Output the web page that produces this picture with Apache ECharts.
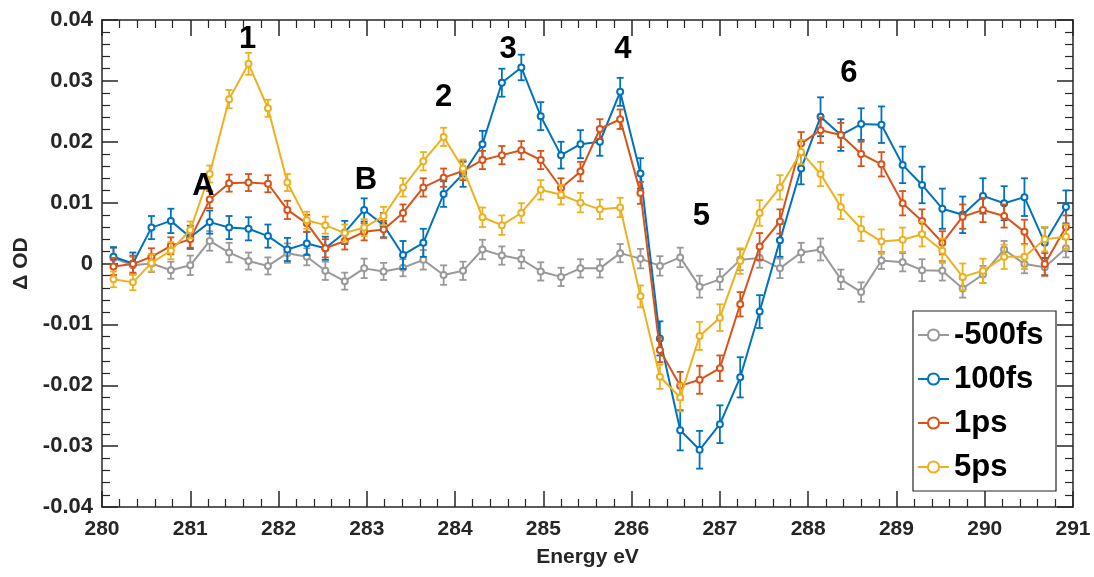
<!DOCTYPE html>
<html>
<head>
<meta charset="utf-8">
<script src="https://cdn.jsdelivr.net/npm/echarts@6/dist/echarts.min.js"></script>
<style>html,body{margin:0;padding:0;background:#fff;}#c{width:1094px;height:577px;}</style>
</head>
<body>
<div id="c"></div>
<script>
const energy = [280.13, 280.35, 280.56, 280.78, 281.00, 281.22, 281.44, 281.66, 281.88, 282.10, 282.32, 282.53, 282.75, 282.97, 283.19, 283.41, 283.64, 283.87, 284.09, 284.31, 284.53, 284.75, 284.97, 285.20, 285.42, 285.64, 285.87, 286.10, 286.32, 286.55, 286.77, 287.00, 287.23, 287.45, 287.68, 287.92, 288.14, 288.37, 288.60, 288.83, 289.07, 289.29, 289.52, 289.75, 289.98, 290.22, 290.45, 290.68, 290.92];

const seriesNames = ['-500fs', '100fs', '1ps', '5ps'];

const odM500fs = [0.0009, -0.0003, 0.0000, -0.0011, -0.0003, 0.0037, 0.0018, 0.0004, -0.0004, 0.0017, 0.0011, -0.0012, -0.0029, -0.0008, -0.0013, -0.0007, 0.0006, -0.0019, -0.0012, 0.0023, 0.0013, 0.0007, -0.0013, -0.0022, -0.0008, -0.0008, 0.0017, 0.0008, -0.0004, 0.0010, -0.0038, -0.0026, 0.0006, 0.0009, -0.0008, 0.0018, 0.0023, -0.0026, -0.0047, 0.0005, 0.0002, -0.0011, -0.0012, -0.0041, -0.0018, 0.0023, -0.0001, -0.0006, 0.0025];
const od100fs = [0.0011, 0.0000, 0.0059, 0.0070, 0.0043, 0.0068, 0.0059, 0.0057, 0.0045, 0.0023, 0.0033, 0.0025, 0.0051, 0.0088, 0.0063, 0.0014, 0.0034, 0.0114, 0.0147, 0.0196, 0.0297, 0.0322, 0.0242, 0.0178, 0.0196, 0.0200, 0.0282, 0.0148, -0.0123, -0.0274, -0.0306, -0.0264, -0.0187, -0.0079, 0.0038, 0.0156, 0.0241, 0.0211, 0.0229, 0.0228, 0.0162, 0.0129, 0.0090, 0.0080, 0.0111, 0.0099, 0.0109, 0.0034, 0.0093];
const od1ps = [-0.0005, -0.0001, 0.0011, 0.0029, 0.0040, 0.0105, 0.0132, 0.0133, 0.0131, 0.0088, 0.0066, 0.0025, 0.0037, 0.0052, 0.0056, 0.0083, 0.0125, 0.0141, 0.0152, 0.0170, 0.0178, 0.0186, 0.0170, 0.0124, 0.0151, 0.0221, 0.0237, 0.0116, -0.0142, -0.0201, -0.0191, -0.0172, -0.0067, 0.0028, 0.0069, 0.0197, 0.0219, 0.0211, 0.0180, 0.0163, 0.0099, 0.0070, 0.0034, 0.0077, 0.0088, 0.0078, 0.0052, -0.0001, 0.0060];
const od5ps = [-0.0026, -0.0031, 0.0001, 0.0021, 0.0055, 0.0147, 0.0270, 0.0328, 0.0255, 0.0133, 0.0071, 0.0063, 0.0050, 0.0059, 0.0078, 0.0125, 0.0168, 0.0208, 0.0156, 0.0076, 0.0063, 0.0083, 0.0121, 0.0113, 0.0100, 0.0089, 0.0092, -0.0054, -0.0186, -0.0220, -0.0119, -0.0089, 0.0004, 0.0083, 0.0125, 0.0183, 0.0147, 0.0093, 0.0057, 0.0036, 0.0039, 0.0048, 0.0021, -0.0022, -0.0012, 0.0011, 0.0011, 0.0040, 0.0044];

const errM500fs = [0.0016, 0.0014, 0.0014, 0.0014, 0.0016, 0.0016, 0.0016, 0.0014, 0.0014, 0.0016, 0.0014, 0.0015, 0.0014, 0.0016, 0.0014, 0.0014, 0.0016, 0.0016, 0.0015, 0.0016, 0.0015, 0.0015, 0.0015, 0.0015, 0.0015, 0.0015, 0.0015, 0.0016, 0.0016, 0.0016, 0.0018, 0.0017, 0.0017, 0.0016, 0.0016, 0.0016, 0.0018, 0.0016, 0.0016, 0.0014, 0.0015, 0.0018, 0.0016, 0.0015, 0.0014, 0.0014, 0.0015, 0.0015, 0.0015];
const err100fs = [0.0016, 0.0018, 0.0019, 0.0020, 0.0019, 0.0019, 0.0019, 0.0019, 0.0019, 0.0019, 0.0019, 0.0019, 0.0019, 0.0019, 0.0020, 0.0023, 0.0023, 0.0021, 0.0021, 0.0022, 0.0023, 0.0021, 0.0023, 0.0022, 0.0023, 0.0023, 0.0023, 0.0025, 0.0028, 0.0033, 0.0031, 0.0031, 0.0033, 0.0027, 0.0027, 0.0026, 0.0032, 0.0026, 0.0026, 0.0030, 0.0030, 0.0030, 0.0033, 0.0030, 0.0029, 0.0028, 0.0031, 0.0025, 0.0027];
const err1ps = [0.0014, 0.0014, 0.0014, 0.0014, 0.0014, 0.0014, 0.0014, 0.0014, 0.0014, 0.0015, 0.0014, 0.0015, 0.0014, 0.0014, 0.0014, 0.0014, 0.0015, 0.0015, 0.0015, 0.0015, 0.0015, 0.0015, 0.0015, 0.0016, 0.0016, 0.0016, 0.0016, 0.0018, 0.0020, 0.0023, 0.0023, 0.0021, 0.0020, 0.0022, 0.0020, 0.0019, 0.0021, 0.0020, 0.0020, 0.0020, 0.0020, 0.0019, 0.0019, 0.0020, 0.0020, 0.0019, 0.0020, 0.0018, 0.0019];
const err5ps = [0.0013, 0.0013, 0.0014, 0.0014, 0.0014, 0.0014, 0.0015, 0.0018, 0.0014, 0.0014, 0.0014, 0.0014, 0.0014, 0.0014, 0.0015, 0.0015, 0.0015, 0.0015, 0.0015, 0.0016, 0.0016, 0.0016, 0.0016, 0.0016, 0.0016, 0.0016, 0.0016, 0.0018, 0.0020, 0.0023, 0.0023, 0.0022, 0.0021, 0.0021, 0.0020, 0.0020, 0.0020, 0.0020, 0.0020, 0.0020, 0.0020, 0.0020, 0.0020, 0.0022, 0.0020, 0.0020, 0.0020, 0.0020, 0.0020];

const xTicks = [280, 281, 282, 283, 284, 285, 286, 287, 288, 289, 290, 291];
const yTicks = [-0.04, -0.03, -0.02, -0.01, 0, 0.01, 0.02, 0.03, 0.04];

// peak annotations: [energy, deltaOD, label]
const annotations = [
  [281.65, 0.0368, '1'], [283.87, 0.0272, '2'], [284.60, 0.0352, '3'], [285.90, 0.0351, '4'],
  [286.79, 0.0077, '5'], [288.46, 0.0313, '6'], [281.15, 0.0127, 'A'], [282.99, 0.0137, 'B']
];

const colors = ['#999999', '#0072BD', '#D95319', '#EDB120'];
const values = [odM500fs, od100fs, od1ps, od5ps];
const errors = [errM500fs, err100fs, err1ps, err5ps];

const FONT = '"Liberation Sans", Arial, Helvetica, sans-serif';
const AXC = '#262626';

function errRender(color) {
  return function (params, api) {
    const x = api.value(0), lo = api.value(1), hi = api.value(2);
    const p1 = api.coord([x, hi]);
    const p2 = api.coord([x, lo]);
    const w = 3.5;
    const style = { stroke: color, lineWidth: 1.8 };
    return {
      type: 'group',
      children: [
        { type: 'line', shape: { x1: p1[0], y1: p1[1], x2: p2[0], y2: p2[1] }, style: style },
        { type: 'line', shape: { x1: p1[0] - w, y1: p1[1], x2: p1[0] + w, y2: p1[1] }, style: style },
        { type: 'line', shape: { x1: p2[0] - w, y1: p2[1], x2: p2[0] + w, y2: p2[1] }, style: style }
      ]
    };
  };
}

const series = [];
seriesNames.forEach(function (name, i) {
  series.push({
    name: name + ' err',
    type: 'custom',
    renderItem: errRender(colors[i]),
    data: energy.map(function (e, k) { return [e, values[i][k] - errors[i][k], values[i][k] + errors[i][k]]; }),
    encode: { x: 0, y: [1, 2] },
    z: 2 + i * 2,
    silent: true
  });
  series.push({
    name: name,
    type: 'line',
    data: energy.map(function (e, k) { return [e, values[i][k]]; }),
    symbol: 'emptyCircle',
    symbolSize: 6,
    showAllSymbol: true,
    lineStyle: { color: colors[i], width: 2 },
    itemStyle: { color: colors[i], borderColor: colors[i], borderWidth: 1.5 },
    z: 3 + i * 2,
    animation: false
  });
});

series.push({
  name: 'labels',
  type: 'scatter',
  symbolSize: 0,
  itemStyle: { opacity: 1 },
  data: annotations.map(function (a) { return { value: [a[0], a[1]], name: a[2] }; }),
  label: {
    show: true, position: 'inside', formatter: '{b}', opacity: 1,
    fontFamily: FONT, fontWeight: 'bold', fontSize: 31, color: '#000', textBorderWidth: 0
  },
  z: 20,
  silent: true
});

const axisCommon = {
  axisLine: { show: true, onZero: false, lineStyle: { color: AXC, width: 1.5 } },
  splitLine: { show: false },
  axisTick: { show: true, inside: true, length: 16, lineStyle: { color: AXC, width: 1.5 } },
  minorTick: { show: true, splitNumber: 5, length: 8, lineStyle: { color: AXC, width: 1.2 } }
};

const chart = echarts.init(document.getElementById('c'), null, { renderer: 'canvas' });
chart.setOption({
  animation: false,
  backgroundColor: '#fff',
  grid: { left: 102, right: 21, top: 20, bottom: 70, containLabel: false },
  legend: {
    data: seriesNames,
    orient: 'vertical',
    left: 913,
    top: 311,
    padding: [7, 5, 7, 4],
    itemGap: 10,
    itemWidth: 31,
    itemHeight: 14,
    backgroundColor: '#fff',
    borderColor: AXC,
    borderWidth: 1.2,
    borderRadius: 0,
    textStyle: { fontFamily: FONT, fontWeight: 'bold', fontSize: 31, color: '#000', lineHeight: 34, width: 97 }
  },
  xAxis: [
    Object.assign({}, axisCommon, {
      type: 'value', min: xTicks[0], max: xTicks[xTicks.length - 1], interval: 1, position: 'bottom',
      name: 'Energy eV', nameLocation: 'middle', nameGap: 40,
      nameTextStyle: { fontFamily: FONT, fontWeight: 'bold', fontSize: 21, color: AXC },
      axisLabel: { show: true, margin: 12, fontFamily: FONT, fontWeight: 'bold', fontSize: 21, color: AXC }
    }),
    Object.assign({}, axisCommon, {
      type: 'value', min: xTicks[0], max: xTicks[xTicks.length - 1], interval: 1, position: 'top',
      axisLabel: { show: false }
    })
  ],
  yAxis: [
    Object.assign({}, axisCommon, {
      type: 'value', min: yTicks[0], max: yTicks[yTicks.length - 1], interval: 0.01, position: 'left',
      name: 'Δ OD', nameLocation: 'middle', nameGap: 70, nameRotate: 90,
      nameTextStyle: { fontFamily: FONT, fontWeight: 'bold', fontSize: 21, color: AXC },
      axisLabel: {
        show: true, margin: 9, fontFamily: FONT, fontWeight: 'bold', fontSize: 22, color: AXC,
        formatter: function (v) { return Math.abs(v) < 1e-9 ? '0' : v.toFixed(2); }
      }
    }),
    Object.assign({}, axisCommon, {
      type: 'value', min: yTicks[0], max: yTicks[yTicks.length - 1], interval: 0.01, position: 'right',
      axisLabel: { show: false }
    })
  ],
  series: series
});
</script>
</body>
</html>
